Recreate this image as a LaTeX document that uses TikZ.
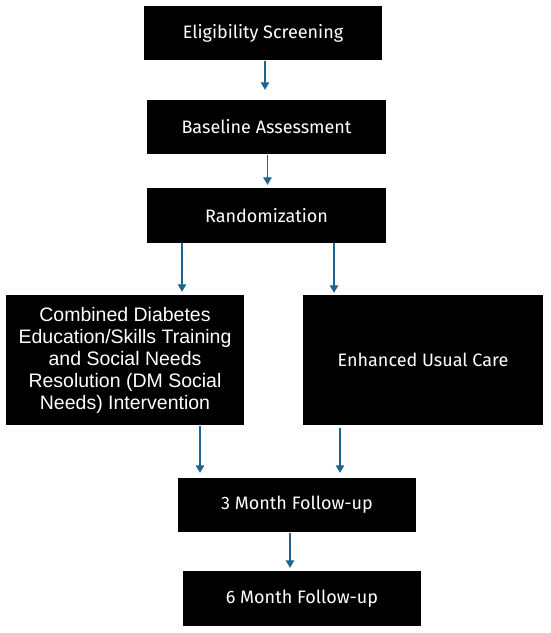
\documentclass[tikz,border=0pt]{standalone}
\usepackage{fontspec}
\setmainfont{Fira Sans}
\newfontfamily\arialfont{Liberation Sans}
\usetikzlibrary{arrows.meta}
\definecolor{arrowblue}{RGB}{31,100,140}
\tikzset{
  box/.style={fill=black, draw=none, text=white, inner sep=0pt, align=center,
    font=\fontsize{18}{21}\selectfont},
  arr/.style={draw=arrowblue, line width=1.3pt, -{Triangle[width=8.5pt,length=7.5pt]}}
}
\begin{document}
\begin{tikzpicture}[x=1pt,y=-1pt]
\useasboundingbox (0,0) rectangle (550,633);
\fill[white] (0,0) rectangle (550,633);
\node[box, minimum width=238pt, minimum height=54pt] (elig) at (263,33) {Eligibility Screening};
\node[box, minimum width=239pt, minimum height=54pt] (base) at (266.5,127) {Baseline Assessment};
\node[box, minimum width=239pt, minimum height=55pt] (rand) at (266.5,215.5) {Randomization};
\node[box, minimum width=238pt, minimum height=130pt, font=\arialfont\fontsize{19.5}{22}\selectfont] (left) at (125,360) {Combined Diabetes\\Education/Skills Training\\and Social Needs\\Resolution (DM Social\\Needs) Intervention};
\node[box, minimum width=240pt, minimum height=130pt] (right) at (423,360) {Enhanced Usual Care};
\node[box, minimum width=238pt, minimum height=54pt] (three) at (297,505) {3 Month Follow-up};
\node[box, minimum width=238pt, minimum height=55pt] (six) at (302,598.5) {6 Month Follow-up};
\draw[arr, shorten <=1pt, shorten >=10pt] ([xshift=2pt]elig.south) -- ([xshift=-1.5pt]base.north);
\draw[arr, shorten <=1pt, shorten >=3pt] ([xshift=1pt]base.south) -- ([xshift=1pt]rand.north);
\draw[arr, shorten <=0pt, shorten >=3pt] ([xshift=-84.5pt]rand.south) -- ([xshift=57pt]left.north);
\draw[arr, shorten <=0pt, shorten >=2pt] ([xshift=67.5pt]rand.south) -- ([xshift=-89pt]right.north);
\draw[arr, shorten <=1pt, shorten >=5pt] ([xshift=75pt]left.south) -- ([xshift=-97pt]three.north);
\draw[arr, shorten <=3pt, shorten >=5pt] ([xshift=-83pt]right.south) -- ([xshift=43pt]three.north);
\draw[arr, shorten <=1pt, shorten >=3pt] ([xshift=-7pt]three.south) -- ([xshift=-12pt]six.north);
\end{tikzpicture}
\end{document}
